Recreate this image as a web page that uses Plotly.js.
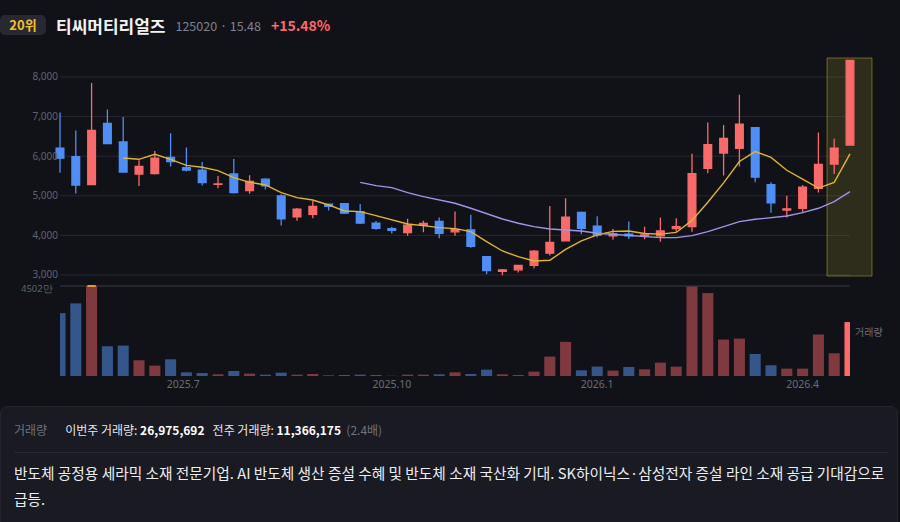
<!DOCTYPE html>
<html><head><meta charset="utf-8">
<script src="https://cdn.plot.ly/plotly-3.0.1.min.js"></script>
<style>
html,body{margin:0;padding:0;background:#111217;width:900px;height:522px;overflow:hidden;font-family:"Noto Sans CJK KR","Noto Sans",sans-serif;}
#chart{position:absolute;left:0;top:0;width:900px;height:522px;}
.hdr{position:absolute;left:0;top:12px;height:26px;display:flex;align-items:center;white-space:nowrap;}
.badge{width:46px;height:20px;background:#272832;border-radius:5px;color:#f2c12e;font-weight:700;font-size:13px;line-height:20px;text-align:center;}
.name{margin-left:10px;color:#f2f3f5;font-weight:700;font-size:17px;}
.code{margin-left:10px;color:#80838e;font-size:12.5px;}
.chg{margin-left:10px;color:#ff6666;font-weight:700;font-size:14px;}
.panel{position:absolute;left:0;top:406px;width:896px;height:130px;background:#191a22;border:1px solid #23242d;border-radius:7px;}
.row1{position:absolute;left:13px;top:13px;height:20px;line-height:20px;font-size:12px;color:#e6e7ea;white-space:nowrap;}
.row1 .lab{color:#6f727d;margin-right:18px;}
.row1 b{font-weight:700;color:#ffffff;}
.row1 .gr{color:#6f727d;}
.sep{position:absolute;left:13px;top:45px;width:874px;height:1px;background:#272833;}
.para{position:absolute;left:13px;top:53px;width:880px;font-size:14.7px;line-height:26px;color:#eceef1;white-space:nowrap;}
</style></head>
<body>
<div id="chart"></div>
<div class="hdr"><div class="badge">20위</div><div class="name">티씨머티리얼즈</div><div class="code">125020 · 15.48</div><div class="chg">+15.48%</div></div>
<div class="panel">
  <div class="row1"><span class="lab">거래량</span>이번주 거래량: <b>26,975,692</b>&nbsp;&nbsp;&nbsp;전주 거래량: <b>11,366,175</b>&nbsp;&nbsp;<span class="gr">(2.4배)</span></div>
  <div class="sep"></div>
  <div class="para">반도체 공정용 세라믹 소재 전문기업. AI 반도체 생산 증설 수혜 및 반도체 소재 국산화 기대. SK하이닉스·삼성전자 증설 라인 소재 공급 기대감으로<br>급등.</div>
</div>
<script>
// weekly candles (week index 0..50)
const weeks = [0,1,2,3,4,5,6,7,8,9,10,11,12,13,14,15,16,17,18,19,20,21,22,23,24,25,26,27,28,29,30,31,32,33,34,35,36,37,38,39,40,41,42,43,44,45,46,47,48,49,50];
const openP  = [6200,5990,5280,6830,6360,5550,5560,5970,5710,5650,5290,5550,5130,5420,5000,4470,4530,4790,4800,4600,4310,4170,4070,4250,4350,4090,4140,3460,3090,3130,3240,3550,3860,4580,4230,3990,4030,3990,3990,4170,4220,5690,6080,6200,6720,5280,4640,4680,5190,5800,6280];
const highP  = [7100,6650,7850,7180,6990,5900,6130,6580,6220,5850,5500,5930,5520,5440,5040,4690,4870,4800,4810,4790,4360,4210,4420,4370,4450,4600,4520,3470,3150,3240,3630,4740,4940,4600,4480,4160,4350,4220,4450,4430,6060,6850,6790,7550,6730,5340,5000,5270,6600,6440,8420];
const lowP   = [5580,5060,5270,6310,5580,5250,5540,5740,5610,5260,5190,5060,5050,5160,4250,4370,4430,4630,4540,4290,4140,4050,3990,4080,3930,3990,3690,3020,2990,3060,3170,3490,3850,4030,3950,3890,3910,3900,3840,4090,4090,5570,5510,5740,5340,4570,4450,4580,5080,5550,6270];
const closeP = [5950,5270,6650,6320,5600,5740,5950,5860,5650,5330,5300,5080,5360,5250,4420,4660,4730,4730,4560,4310,4180,4130,4260,4300,4050,4150,3720,3110,3130,3240,3600,3820,4460,4180,4010,4040,3990,4010,4110,4220,5560,6290,6450,6810,5470,4820,4670,5220,5790,6200,8420];
// moving averages
const ma5  = [null,null,null,null,5955,5921,6047,5921,5769,5719,5635,5458,5340,5273,5079,4953,4894,4768,4616,4599,4498,4389,4288,4246,4195,4170,4094,3842,3606,3463,3354,3370,3648,3860,4014,4102,4111,4046,4032,4074,4378,4838,5326,5866,6116,5968,5644,5420,5194,5340,6056];
const ma20 = [null,null,null,null,null,null,null,null,null,null,null,null,null,null,null,null,null,null,null,5340,5256,5205,5079,4978,4894,4810,4684,4540,4414,4305,4221,4162,4128,4111,4052,4027,3993,3968,3943,3943,3993,4094,4221,4347,4406,4448,4490,4574,4684,4852,5104];
// weekly volume in 만 (10,000 shares)
const volume = [3146,3632,4502,1490,1523,787,519,837,184,151,84,251,117,67,167,67,100,33,50,67,50,10,67,67,84,184,100,318,84,50,218,971,1707,284,469,268,452,335,670,469,4480,4150,1824,1874,1104,536,368,368,2075,1137,2698];
const volMaxLabel = '4502만';
const priceTicks = [3000,4000,5000,6000,7000,8000];
const dateTickVals = [7.8,21,34,47];
const dateTickText = ['2025.7','2025.10','2026.1','2026.4'];

const UP='#f96a6a', DOWN='#4f8ef6', UPV='#7f3a3f', DOWNV='#35568a';
const W=900,H=522;
const px=x=>x/W, py=y=>(H-y)/H;

const last = weeks.length-1;
const volColors = weeks.map((w,i)=> i===last ? '#ff6b6b' : (closeP[i]>=openP[i]?UPV:DOWNV));

const traces = [
 {type:'candlestick',x:weeks,open:openP,high:highP,low:lowP,close:closeP,xaxis:'x',yaxis:'y',
  increasing:{line:{color:UP,width:1.3},fillcolor:UP},decreasing:{line:{color:DOWN,width:1.3},fillcolor:DOWN},
  whiskerwidth:0,hoverinfo:'skip',showlegend:false},
 {type:'scatter',mode:'lines',x:weeks,y:ma5,xaxis:'x',yaxis:'y',line:{color:'#e0b531',width:1.4},hoverinfo:'skip',showlegend:false},
 {type:'scatter',mode:'lines',x:weeks,y:ma20,xaxis:'x',yaxis:'y',line:{color:'#a393e8',width:1.4},hoverinfo:'skip',showlegend:false},
 {type:'bar',x:weeks,y:volume,xaxis:'x2',yaxis:'y2',marker:{color:volColors,line:{width:0}},hoverinfo:'skip',showlegend:false},
 {type:'scatter',mode:'markers',x:[2],y:[Math.max(...volume)],xaxis:'x2',yaxis:'y2',marker:{symbol:'line-ew',size:6,line:{color:'#e79a2c',width:2}},hoverinfo:'skip',showlegend:false}
];

const shapes = priceTicks.map(v=>({type:'line',xref:'paper',yref:'y',x0:px(60),x1:px(850),y0:v,y1:v,line:{color:'#272833',width:1},layer:'below'}));
shapes.push({type:'line',xref:'paper',yref:'y2',x0:px(60),x1:px(850),y0:4502,y1:4502,line:{color:'#2c2d3d',width:1.5},layer:'below'});
shapes.push({type:'rect',xref:'paper',yref:'paper',x0:px(827),x1:px(872),y0:py(276),y1:py(58),fillcolor:'rgba(190,175,40,0.17)',line:{color:'rgba(190,175,50,0.5)',width:1},layer:'below'});

const layout = {
 width:W,height:H,margin:{l:0,r:0,t:0,b:0},paper_bgcolor:'rgba(0,0,0,0)',plot_bgcolor:'rgba(0,0,0,0)',
 font:{family:'"Noto Sans", sans-serif',color:'#5f626d',size:10.5},
 showlegend:false,bargap:0.3,
 xaxis:{domain:[px(40),px(880)],range:[-20/15.8,50+30/15.8],anchor:'y',showgrid:false,zeroline:false,showticklabels:false,showline:false,rangeslider:{visible:false},fixedrange:true},
 yaxis:{domain:[py(280),py(40)],range:[2873,8934],anchor:'free',position:px(60),tickvals:priceTicks,tickformat:',d',showgrid:false,zeroline:false,showline:false,ticks:'',ticklabelstandoff:2,tickfont:{size:10,color:'#5f626d'},fixedrange:true},
 xaxis2:{domain:[px(60),px(850)],range:[0,50],anchor:'y2',tickvals:dateTickVals,ticktext:dateTickText,showgrid:false,zeroline:false,showline:false,ticks:'',tickfont:{size:10.5,color:'#6a6d78'},fixedrange:true},
 yaxis2:{domain:[py(376),py(282)],range:[0,4702],anchor:'x2',visible:false,fixedrange:true},
 shapes:shapes,
 annotations:[
  {xref:'paper',yref:'paper',x:px(54),y:py(288),xanchor:'right',yanchor:'middle',borderpad:0,text:volMaxLabel,showarrow:false,font:{size:9.5,color:'#5f626d'}},
  {xref:'paper',yref:'paper',x:px(853),y:py(331),xanchor:'left',yanchor:'middle',text:'거래량',showarrow:false,font:{size:10,color:'#6a6d78',family:'"Noto Sans CJK KR", sans-serif'}}
 ]
};
Plotly.newPlot('chart',traces,layout,{displayModeBar:false,staticPlot:true});
</script>
</body></html>
